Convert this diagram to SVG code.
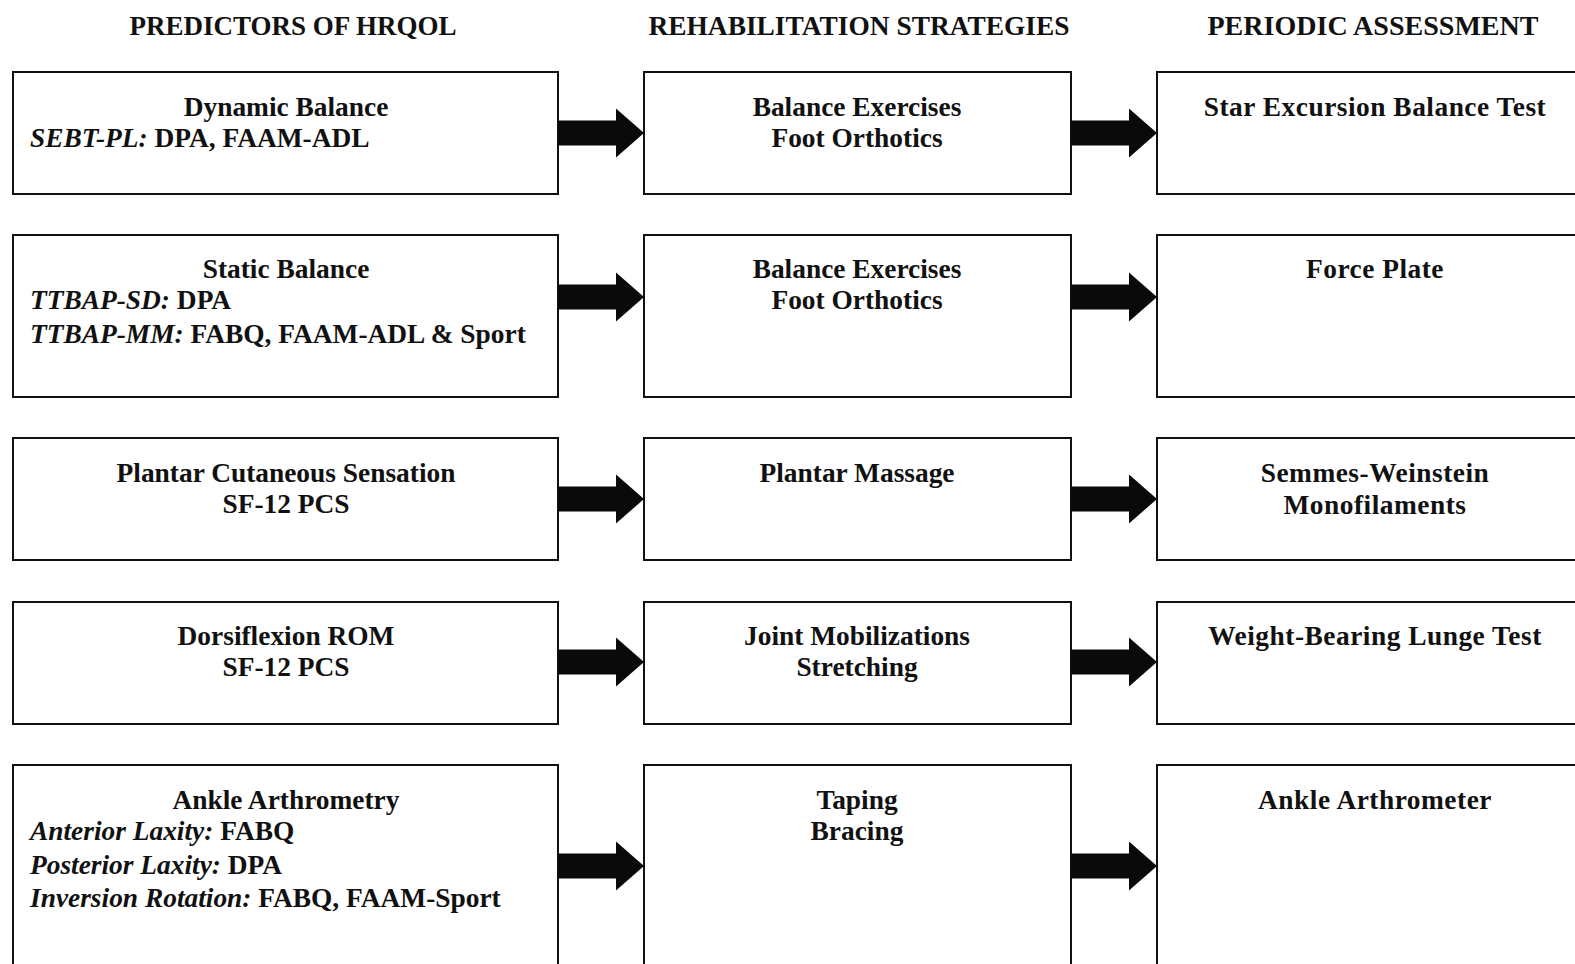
<svg xmlns="http://www.w3.org/2000/svg" xmlns:xlink="http://www.w3.org/1999/xlink" width="1575" height="964" viewBox="0 0 1575 964">
  <style>
    .box { fill: #ffffff; stroke: #111111; stroke-width: 2; }
    .hdr { font-family: "Liberation Serif", "Times New Roman", serif; font-weight: bold; font-size: 27px; fill: #111111; text-anchor: middle; }
    .t { font-family: "Liberation Serif", "Times New Roman", serif; font-weight: bold; font-size: 27.4px; fill: #111111; }
    .c { text-anchor: middle; }
    .i { font-style: italic; }
    .wide { letter-spacing: 0.5px; }
    .arrow { fill: #0a0a0a; }
  </style>
  <defs>
    <!-- block arrow spanning the 86px gap between columns, tip at x=86 -->
    <path id="blockArrow" class="arrow" d="M0,-12.5 H58 V-24.5 L86,0 L58,24.5 V12.5 H0 Z"/>
  </defs>

  <rect width="1575" height="964" fill="#ffffff"/>

  <!-- column headings -->
  <g id="headers">
    <text class="hdr" x="293" y="35">PREDICTORS OF HRQOL</text>
    <text class="hdr" x="859" y="35" textLength="421" lengthAdjust="spacingAndGlyphs">REHABILITATION STRATEGIES</text>
    <text class="hdr" x="1373" y="35" textLength="331" lengthAdjust="spacingAndGlyphs">PERIODIC ASSESSMENT</text>
  </g>

  <!-- column 1: predictors -->
  <g id="pred-dynamic">
    <rect class="box" x="13" y="72" width="545" height="122"/>
    <text class="t c" x="286" y="116">Dynamic Balance</text>
    <text class="t" x="30" y="147"><tspan class="i">SEBT-PL:</tspan> DPA, FAAM-ADL</text>
  </g>
  <g id="pred-static">
    <rect class="box" x="13" y="235" width="545" height="162"/>
    <text class="t c" x="286" y="278">Static Balance</text>
    <text class="t" x="30" y="309"><tspan class="i">TTBAP-SD:</tspan> DPA</text>
    <text class="t" x="30" y="343"><tspan class="i">TTBAP-MM:</tspan> FABQ, FAAM-ADL &amp; Sport</text>
  </g>
  <g id="pred-plantar">
    <rect class="box" x="13" y="438" width="545" height="122"/>
    <text class="t c" x="286" y="482">Plantar Cutaneous Sensation</text>
    <text class="t c" x="286" y="513">SF-12 PCS</text>
  </g>
  <g id="pred-dorsiflexion">
    <rect class="box" x="13" y="602" width="545" height="122"/>
    <text class="t c" x="286" y="645">Dorsiflexion ROM</text>
    <text class="t c" x="286" y="676">SF-12 PCS</text>
  </g>
  <g id="pred-arthrometry">
    <rect class="box" x="13" y="765" width="545" height="220"/>
    <text class="t c" x="286" y="809">Ankle Arthrometry</text>
    <text class="t" x="30" y="840"><tspan class="i">Anterior Laxity:</tspan> FABQ</text>
    <text class="t" x="30" y="874"><tspan class="i">Posterior Laxity:</tspan> DPA</text>
    <text class="t" x="30" y="907"><tspan class="i">Inversion Rotation:</tspan> FABQ, FAAM-Sport</text>
  </g>

  <!-- column 2: rehabilitation strategies -->
  <g id="rehab-dynamic">
    <rect class="box" x="644" y="72" width="427" height="122"/>
    <text class="t c" x="857" y="116">Balance Exercises</text>
    <text class="t c" x="857" y="147">Foot Orthotics</text>
  </g>
  <g id="rehab-static">
    <rect class="box" x="644" y="235" width="427" height="162"/>
    <text class="t c" x="857" y="278">Balance Exercises</text>
    <text class="t c" x="857" y="309">Foot Orthotics</text>
  </g>
  <g id="rehab-plantar">
    <rect class="box" x="644" y="438" width="427" height="122"/>
    <text class="t c" x="857" y="482">Plantar Massage</text>
  </g>
  <g id="rehab-dorsiflexion">
    <rect class="box" x="644" y="602" width="427" height="122"/>
    <text class="t c" x="857" y="645">Joint Mobilizations</text>
    <text class="t c" x="857" y="676">Stretching</text>
  </g>
  <g id="rehab-arthrometry">
    <rect class="box" x="644" y="765" width="427" height="220"/>
    <text class="t c" x="857" y="809">Taping</text>
    <text class="t c" x="857" y="840">Bracing</text>
  </g>

  <!-- column 3: periodic assessment -->
  <g id="assess-dynamic">
    <rect class="box" x="1157" y="72" width="435" height="122"/>
    <text class="t c wide" x="1375" y="116">Star Excursion Balance Test</text>
  </g>
  <g id="assess-static">
    <rect class="box" x="1157" y="235" width="435" height="162"/>
    <text class="t c wide" x="1375" y="278">Force Plate</text>
  </g>
  <g id="assess-plantar">
    <rect class="box" x="1157" y="438" width="435" height="122"/>
    <text class="t c wide" x="1375" y="482">Semmes-Weinstein</text>
    <text class="t c wide" x="1375" y="514">Monofilaments</text>
  </g>
  <g id="assess-dorsiflexion">
    <rect class="box" x="1157" y="602" width="435" height="122"/>
    <text class="t c wide" x="1375" y="645">Weight-Bearing Lunge Test</text>
  </g>
  <g id="assess-arthrometry">
    <rect class="box" x="1157" y="765" width="435" height="220"/>
    <text class="t c wide" x="1375" y="809">Ankle Arthrometer</text>
  </g>

  <!-- connectors -->
  <g id="connectors">
    <use xlink:href="#blockArrow" x="558" y="133"/>
    <use xlink:href="#blockArrow" x="1071" y="133"/>
    <use xlink:href="#blockArrow" x="558" y="297"/>
    <use xlink:href="#blockArrow" x="1071" y="297"/>
    <use xlink:href="#blockArrow" x="558" y="499"/>
    <use xlink:href="#blockArrow" x="1071" y="499"/>
    <use xlink:href="#blockArrow" x="558" y="662"/>
    <use xlink:href="#blockArrow" x="1071" y="662"/>
    <use xlink:href="#blockArrow" x="558" y="866"/>
    <use xlink:href="#blockArrow" x="1071" y="866"/>
  </g>
</svg>
